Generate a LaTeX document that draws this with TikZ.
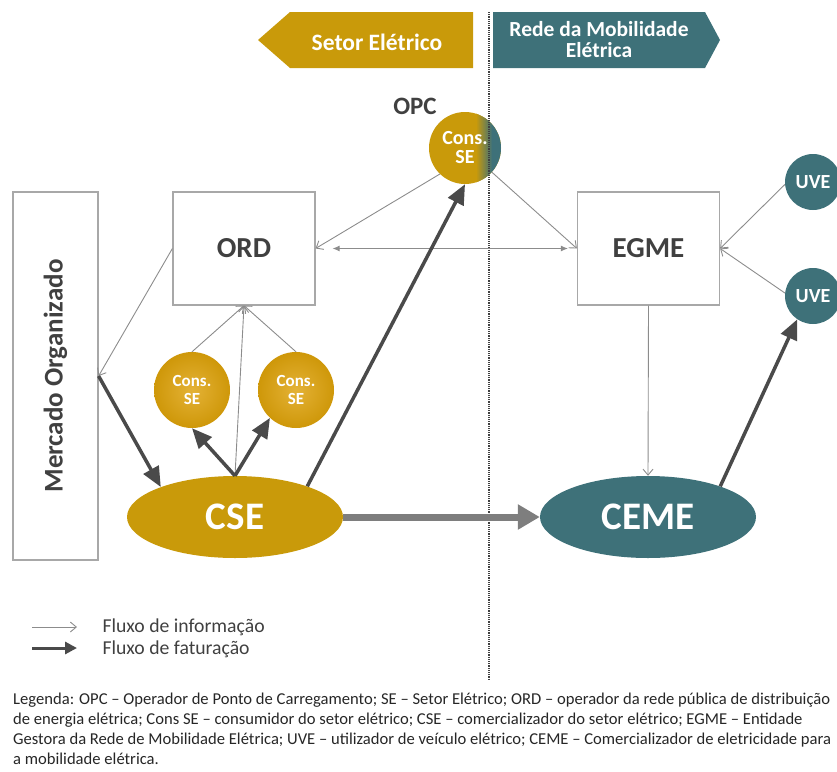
\documentclass[tikz,border=0pt]{standalone}
\usepackage{fontspec}
\setmainfont{Carlito}
\usetikzlibrary{arrows.meta,shapes.geometric}

\definecolor{gold}{HTML}{C99A0A}
\definecolor{goldlight}{HTML}{E4B236}
\definecolor{petrol}{HTML}{3E7179}
\definecolor{txtgray}{HTML}{404040}
\definecolor{boxgray}{HTML}{A8A8A8}
\definecolor{infogray}{HTML}{8C8C8C}
\definecolor{billgray}{HTML}{4A4A4A}

\newcommand{\fs}[1]{\fontsize{#1}{#1}\selectfont}

\tikzset{
  entitybox/.style={draw=boxgray, line width=1.2pt, minimum width=142pt, minimum height=113pt,
    text=txtgray, font=\fs{29}\bfseries},
  agent/.style={ellipse, inner sep=0pt, minimum width=216pt, minimum height=82pt,
    text=white, font=\fs{39}\bfseries},
  cons/.style={circle, inner sep=0pt, minimum size=76pt, shade, inner color=goldlight,
    outer color=gold!90!orange, text=white, font=\fontsize{17}{18}\selectfont\bfseries, align=center},
  uve/.style={circle, inner sep=0pt, minimum size=56pt, fill=petrol, text=white, font=\fs{20}\bfseries},
  info/.style={draw=infogray, line width=0.9pt, -{Straight Barb[length=6pt,width=10pt]}},
  bill/.style={draw=billgray, line width=3.5pt, -{Triangle[length=20pt,width=17pt]}},
  banner/.style={text=white, font=\fs{23.5}\bfseries, align=center}
}

\begin{document}
\begin{tikzpicture}[x=1pt,y=-1pt]
  \useasboundingbox (0,0) rectangle (837,771);

  \fill[gold] (258,40) -- (290,12) -- (473,12) -- (473,68) -- (290,68) -- cycle;
  \fill[petrol] (493,12) -- (705,12) -- (720,40) -- (705,68) -- (493,68) -- cycle;
  \node[banner] (setor) at (377,42) {Setor Elétrico};
  \node[banner, font=\fontsize{21.5}{21}\selectfont\bfseries] (rede) at (599,40) {Rede da Mobilidade\\Elétrica};

  \node[entitybox] (ord) at (244,248.5) {ORD};
  \node[entitybox] (egme) at (648.5,248.5) {EGME};
  \node[draw=boxgray, line width=1.2pt, minimum width=85pt, minimum height=368pt] (merc) at (55.5,376) {};
  \node[rotate=90, text=txtgray, font=\fs{27}\bfseries] (merclabel) at (merc.center) {Mercado Organizado};

  \node[circle, inner sep=0pt, minimum size=72pt, fill=gold] (opc) at (465,148) {};
  \begin{scope}
    \clip (465,148) circle (36pt);
    \shade[left color=gold, right color=petrol] (476,100) rectangle (492,200);
    \fill[petrol] (492,100) rectangle (510,200);
  \end{scope}
  \node[text=white, font=\fontsize{20}{19}\selectfont\bfseries, align=center] (opctext) at (opc.center) {Cons.\\SE};
  \node[text=txtgray, font=\fs{25}\bfseries] (opclabel) at (415,106) {OPC};

  \node[cons] (consl) at (192,390) {Cons.\\SE};
  \node[cons] (consr) at (296,390) {Cons.\\SE};
  \node[uve] (uve1) at (813,182) {UVE};
  \node[uve] (uve2) at (813,296) {UVE};

  \node[agent, fill=gold] (cse) at (235,517) {CSE};
  \node[agent, fill=petrol] (ceme) at (648,517) {CEME};

  \draw[densely dotted, line width=1.2pt, draw=txtgray] (489,12) -- (489,680);

  \draw[info] (opc.226) -- (ord.east);
  \draw[info] (opc.-42) -- (egme.west);
  \draw[draw=infogray, line width=0.9pt, {Latex[length=7pt,width=6pt]}-{Latex[length=7pt,width=6pt]}]
    ([xshift=17pt]ord.east) -- ([xshift=-9pt]egme.west);
  \draw[info] (ord.west) -- (merc.east);
  \draw[info] (consl.north) -- (ord.south);
  \draw[info] (consr.north) -- (ord.south);
  \draw[info] (cse.north) -- (ord.south);
  \draw[info] (egme.south) -- (ceme.north);
  \draw[info] (uve1.185) -- (egme.east);
  \draw[info] (uve2.174) -- (egme.east);

  \draw[bill] (merc.east) -- (cse.158);
  \draw[bill] (cse.north) -- (consl.south);
  \draw[bill] (cse.north) -- (consr.227);
  \draw[bill] (cse.23) -- (opc.south);
  \draw[bill] (ceme.23) -- (uve2.236);
  \draw[draw=infogray!90!black, line width=7pt, -{Triangle[length=22pt,width=24pt]}] (cse.east) -- (ceme.west);

  \coordinate (info0) at (32,627);
  \coordinate (info1) at (77,627);
  \coordinate (bill0) at (32,648);
  \coordinate (bill1) at (77,648);
  \draw[info] (info0) -- (info1);
  \draw[draw=billgray, line width=3pt, -{Triangle[length=12pt,width=12pt]}] (bill0) -- (bill1);
  \node[anchor=west, text=txtgray, font=\fs{19.7}] (infolabel) at (99,627) {Fluxo de informação};
  \node[anchor=west, text=txtgray, font=\fs{19.7}] (billlabel) at (99,649) {Fluxo de faturação};

  \node[anchor=north west, inner sep=0pt, align=left, text=black!85, font=\fontsize{16.6}{20}\selectfont] (legenda) at (13,693)
    {Legenda: OPC -- Operador de Ponto de Carregamento; SE -- Setor Elétrico; ORD -- operador da rede pública de distribuição\\
     de energia elétrica; Cons SE -- consumidor do setor elétrico; CSE -- comercializador do setor elétrico; EGME -- Entidade\\
     Gestora da Rede de Mobilidade Elétrica; UVE -- utilizador de veículo elétrico; CEME -- Comercializador de eletricidade para\\
     a mobilidade elétrica.};
\end{tikzpicture}
\end{document}
